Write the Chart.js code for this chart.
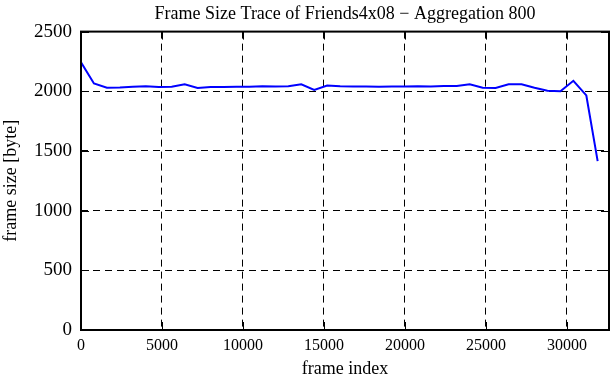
<!DOCTYPE html>
<html>
<head>
<meta charset="utf-8">
<script src="https://cdn.jsdelivr.net/npm/chart.js@4"></script>
<style>
  html, body { margin: 0; padding: 0; background: #fff; }
  #wrap { width: 611px; height: 380px; }
</style>
</head>
<body>
<div id="wrap"><canvas id="traceChart"></canvas></div>
<script>
// frame index (aggregation of 800 frames) and mean frame size in bytes
const frameIndex = [0, 800, 1600, 2400, 3200, 4000, 4800, 5600, 6400, 7200,
  8000, 8800, 9600, 10400, 11200, 12000, 12800, 13600, 14400, 15200,
  16000, 16800, 17600, 18400, 19200, 20000, 20800, 21600, 22400, 23200,
  24000, 24800, 25600, 26400, 27200, 28000, 28800, 29600, 30400, 31200, 31900];
const frameSize = [2243, 2065, 2030, 2032, 2038, 2042, 2035, 2038, 2058, 2027,
  2035, 2035, 2038, 2038, 2042, 2040, 2042, 2058, 2012, 2048,
  2042, 2040, 2040, 2038, 2040, 2040, 2042, 2040, 2045, 2045,
  2058, 2030, 2028, 2058, 2058, 2030, 2005, 2000, 2088, 1965, 1415];
const xTicks = [0, 5000, 10000, 15000, 20000, 25000, 30000];
const yTicks = [0, 500, 1000, 1500, 2000, 2500];

const serif = 'Liberation Serif';

// gnuplot style frame with inward tick marks
const framePlugin = {
  id: 'frame',
  afterDraw(chart) {
    const { ctx, chartArea: a, scales } = chart;
    ctx.save();
    ctx.strokeStyle = '#000';
    ctx.lineWidth = 1;
    ctx.beginPath();
    xTicks.forEach(v => {
      const px = Math.round(scales.x.getPixelForValue(v)) + 0.5;
      ctx.moveTo(px, a.bottom); ctx.lineTo(px, a.bottom - 8);
      ctx.moveTo(px, a.top); ctx.lineTo(px, a.top + 8);
    });
    yTicks.forEach(v => {
      const py = Math.round(scales.y.getPixelForValue(v)) + 0.5;
      ctx.moveTo(a.left, py); ctx.lineTo(a.left + 8, py);
      ctx.moveTo(a.right, py); ctx.lineTo(a.right - 8, py);
    });
    ctx.stroke();
    ctx.lineWidth = 2;
    ctx.strokeRect(a.left, a.top, a.right - a.left, a.bottom - a.top);
    ctx.restore();
  }
};

const ctx = document.getElementById('traceChart').getContext('2d');
new Chart(ctx, {
  type: 'line',
  data: {
    datasets: [{
      data: frameIndex.map((x, i) => ({ x: x, y: frameSize[i] })),
      borderColor: '#0000ff',
      borderWidth: 2,
      pointRadius: 0,
      tension: 0,
      fill: false
    }]
  },
  options: {
    responsive: true,
    maintainAspectRatio: false,
    animation: false,
    layout: { padding: { right: 2, top: 0, bottom: 0, left: 0 } },
    plugins: {
      legend: { display: false },
      tooltip: { enabled: false },
      title: {
        display: true,
        fullSize: false,
        text: 'Frame Size Trace of Friends4x08 \u2212 Aggregation 800',
        color: '#000',
        font: { family: serif, size: 18, weight: 'normal' },
        padding: { top: 3, bottom: 7 }
      }
    },
    scales: {
      x: {
        type: 'linear',
        min: 0,
        max: 32600,
        afterBuildTicks: s => { s.ticks = xTicks.map(v => ({ value: v })); },
        afterFit: s => { s.height = 50; },
        ticks: { color: '#000', font: { family: serif, size: 16 }, padding: 6, maxRotation: 0,
                 callback: v => String(v) },
        grid: {
          color: c => (c.tick && c.tick.value === 0) ? 'rgba(0,0,0,0)' : '#000',
          lineWidth: 1,
          drawTicks: false
        },
        border: { display: false, dash: [7, 5] },
        title: { display: true, text: 'frame index', color: '#000',
                 font: { family: serif, size: 18 }, padding: { top: 0, bottom: 0 } }
      },
      y: {
        min: 0,
        max: 2500,
        afterBuildTicks: s => { s.ticks = yTicks.map(v => ({ value: v })); },
        afterFit: s => { s.width = 81; },
        ticks: { color: '#000', font: { family: serif, size: 19 }, padding: 9,
                 callback: v => String(v) },
        grid: {
          color: c => (c.tick && (c.tick.value === 0 || c.tick.value === 2500)) ? 'rgba(0,0,0,0)' : '#000',
          lineWidth: 1,
          drawTicks: false
        },
        border: { display: false, dash: [7, 5] },
        title: { display: true, text: 'frame size [byte]', color: '#000',
                 font: { family: serif, size: 18 }, padding: { top: 0, bottom: 2 } }
      }
    }
  },
  plugins: [framePlugin]
});
</script>
</body>
</html>
